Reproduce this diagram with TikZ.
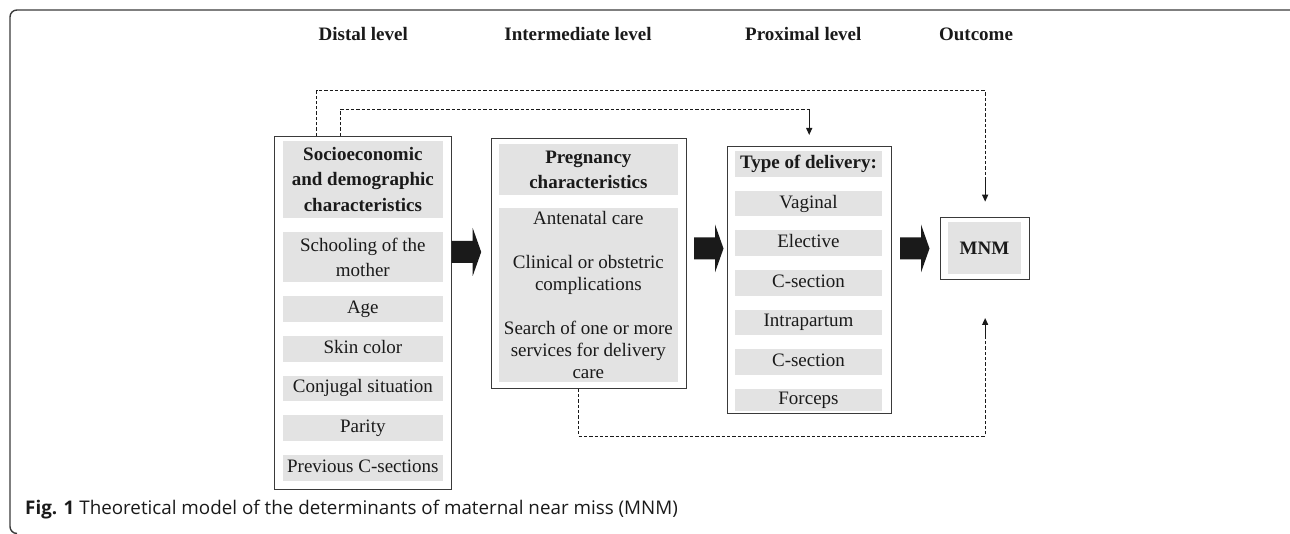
\documentclass[tikz,border=0pt]{standalone}
\usepackage{fontspec}
\setmainfont{Liberation Serif}
\newfontfamily\capfont{Open Sans}
\usepackage{tikz}
\usetikzlibrary{positioning,arrows.meta}
\definecolor{ink}{HTML}{1A1A1A}
\definecolor{edge}{HTML}{3A3A3A}
\definecolor{shade}{HTML}{E3E3E3}
\tikzset{
  frame/.style={draw=edge, line width=1.4pt, rounded corners=7pt},
  head/.style={text=ink, font=\fontsize{19}{22}\selectfont\bfseries},
  box/.style={draw=edge, line width=1pt, inner sep=0pt, anchor=north west},
  row/.style={fill=shade, inner sep=0pt, align=center, text=ink, minimum height=25.7pt, font=\fontsize{19}{22}\selectfont},
  item/.style={row, text height=13pt, text depth=4pt},
  rowb/.style={row, font=\fontsize{19}{25.5}\selectfont\bfseries},
  dashline/.style={draw=ink, line width=0.9pt, dash pattern=on 3.3pt off 2pt},
  tiparrow/.style={draw=ink, line width=1.2pt, -{Triangle[length=7pt,width=6pt]}},
  fatarrow/.pic={\fill[ink] (0,-11) -- (21,-11) -- (21,-24) -- (29.5,0) -- (21,24) -- (21,11) -- (0,11) -- cycle;},
}

\begin{document}
\begin{tikzpicture}[x=1pt,y=-1pt,node distance=13.5pt]
  \useasboundingbox (0,0) rectangle (1290,534);
  \draw[frame] (17,533.5) -- (10,533.5) -- (10,10) -- (1297,10) -- (1297,30);

  % level titles
  \node[head] (hd1) at (363.3,34) {Distal level};
  \node[head] (hd2) at (578,34) {Intermediate level};
  \node[head] (hd3) at (803.3,34) {Proximal level};
  \node[head] (hd4) at (976,34) {Outcome};

  % distal
  \node[box, minimum width=176.7pt, minimum height=353.3pt] (soc) at (274,136) {};
  \node[rowb, minimum width=160.3pt, minimum height=77pt, anchor=north] (soc0) at (362.85,140.7) {Socioeconomic\\and demographic\\characteristics};
  \node[row, minimum width=160.3pt, minimum height=50.7pt, font=\fontsize{19}{25}\selectfont, below=of soc0] (soc1) {Schooling of the\\mother};
  \node[item, minimum width=160.3pt, below=of soc1] (soc2) {Age};
  \node[item, minimum width=160.3pt, below=of soc2] (soc3) {Skin color};
  \node[item, minimum width=160.3pt, below=of soc3] (soc4) {Conjugal situation};
  \node[item, minimum width=160.3pt, below=of soc4] (soc5) {Parity};
  \node[item, minimum width=160.3pt, below=of soc5] (soc6) {Previous C-sections};

  % intermediate
  \node[box, minimum width=195pt, minimum height=249.4pt] (preg) at (490.7,138.3) {};
  \node[rowb, minimum width=178.7pt, minimum height=51pt, anchor=north] (preg0) at (588.35,144) {Pregnancy\\characteristics};
  \node[row, minimum width=178.7pt, minimum height=174pt, below=12.7pt of preg0] (preg1)
    {Antenatal care\\[22pt]Clinical or obstetric\\complications\\[22pt]Search of one or more\\services for delivery\\care};

  % proximal
  \node[box, minimum width=164pt, minimum height=267pt] (deliv) at (726.7,146) {};
  \node[rowb, minimum width=147pt, minimum height=26pt, text height=13pt, text depth=4pt, anchor=north] (deliv0) at (808.5,150.7) {Type of delivery:};
  \node[item, minimum width=147pt, below=of deliv0] (deliv1) {Vaginal};
  \node[item, minimum width=147pt, below=of deliv1] (deliv2) {Elective};
  \node[item, minimum width=147pt, below=of deliv2] (deliv3) {C-section};
  \node[item, minimum width=147pt, below=of deliv3] (deliv4) {Intrapartum};
  \node[item, minimum width=147pt, below=of deliv4] (deliv5) {C-section};
  \node[item, minimum width=147pt, minimum height=22pt, below=of deliv5] (deliv6) {Forceps};

  % outcome
  \node[box, minimum width=89.3pt, minimum height=62pt] (mnm) at (940,216.7) {};
  \node[rowb, minimum width=72.7pt, minimum height=51.4pt] (mnm0) at (984.4,248) {MNM};

  % main flow
  \pic at (soc.east |- 0,252) {fatarrow};
  \pic[xshift=7.3pt] at (preg.east |- 0,248.5) {fatarrow};
  \pic[xshift=8.3pt] at (deliv.east |- 0,248.5) {fatarrow};

  % direct paths
  \draw[dashline] ([xshift=-46.35pt]soc.north) |- ([yshift=126pt]mnm.north) -- ([yshift=38.7pt]mnm.north);
  \draw[tiparrow] ([yshift=38.7pt]mnm.north) -- ([yshift=15pt]mnm.north);
  \draw[dashline] ([xshift=-22.35pt]soc.north) |- ([yshift=36.7pt]deliv.north);
  \draw[tiparrow] ([yshift=36.7pt]deliv.north) -- ([yshift=11pt]deliv.north);
  \draw[dashline] ([xshift=-10.5pt]preg.south) |- ([yshift=-156.3pt]mnm.south) -- ([yshift=-56.3pt]mnm.south);
  \draw[tiparrow] ([yshift=-56.3pt]mnm.south) -- ([yshift=-38.3pt]mnm.south);

  \node[anchor=west, inner sep=0pt, text=ink, font=\capfont\fontsize{18.8}{20}\selectfont] (cap) at (25,509.3)
    {\textbf{Fig. 1} Theoretical model of the determinants of maternal near miss (MNM)};
\end{tikzpicture}
\end{document}
